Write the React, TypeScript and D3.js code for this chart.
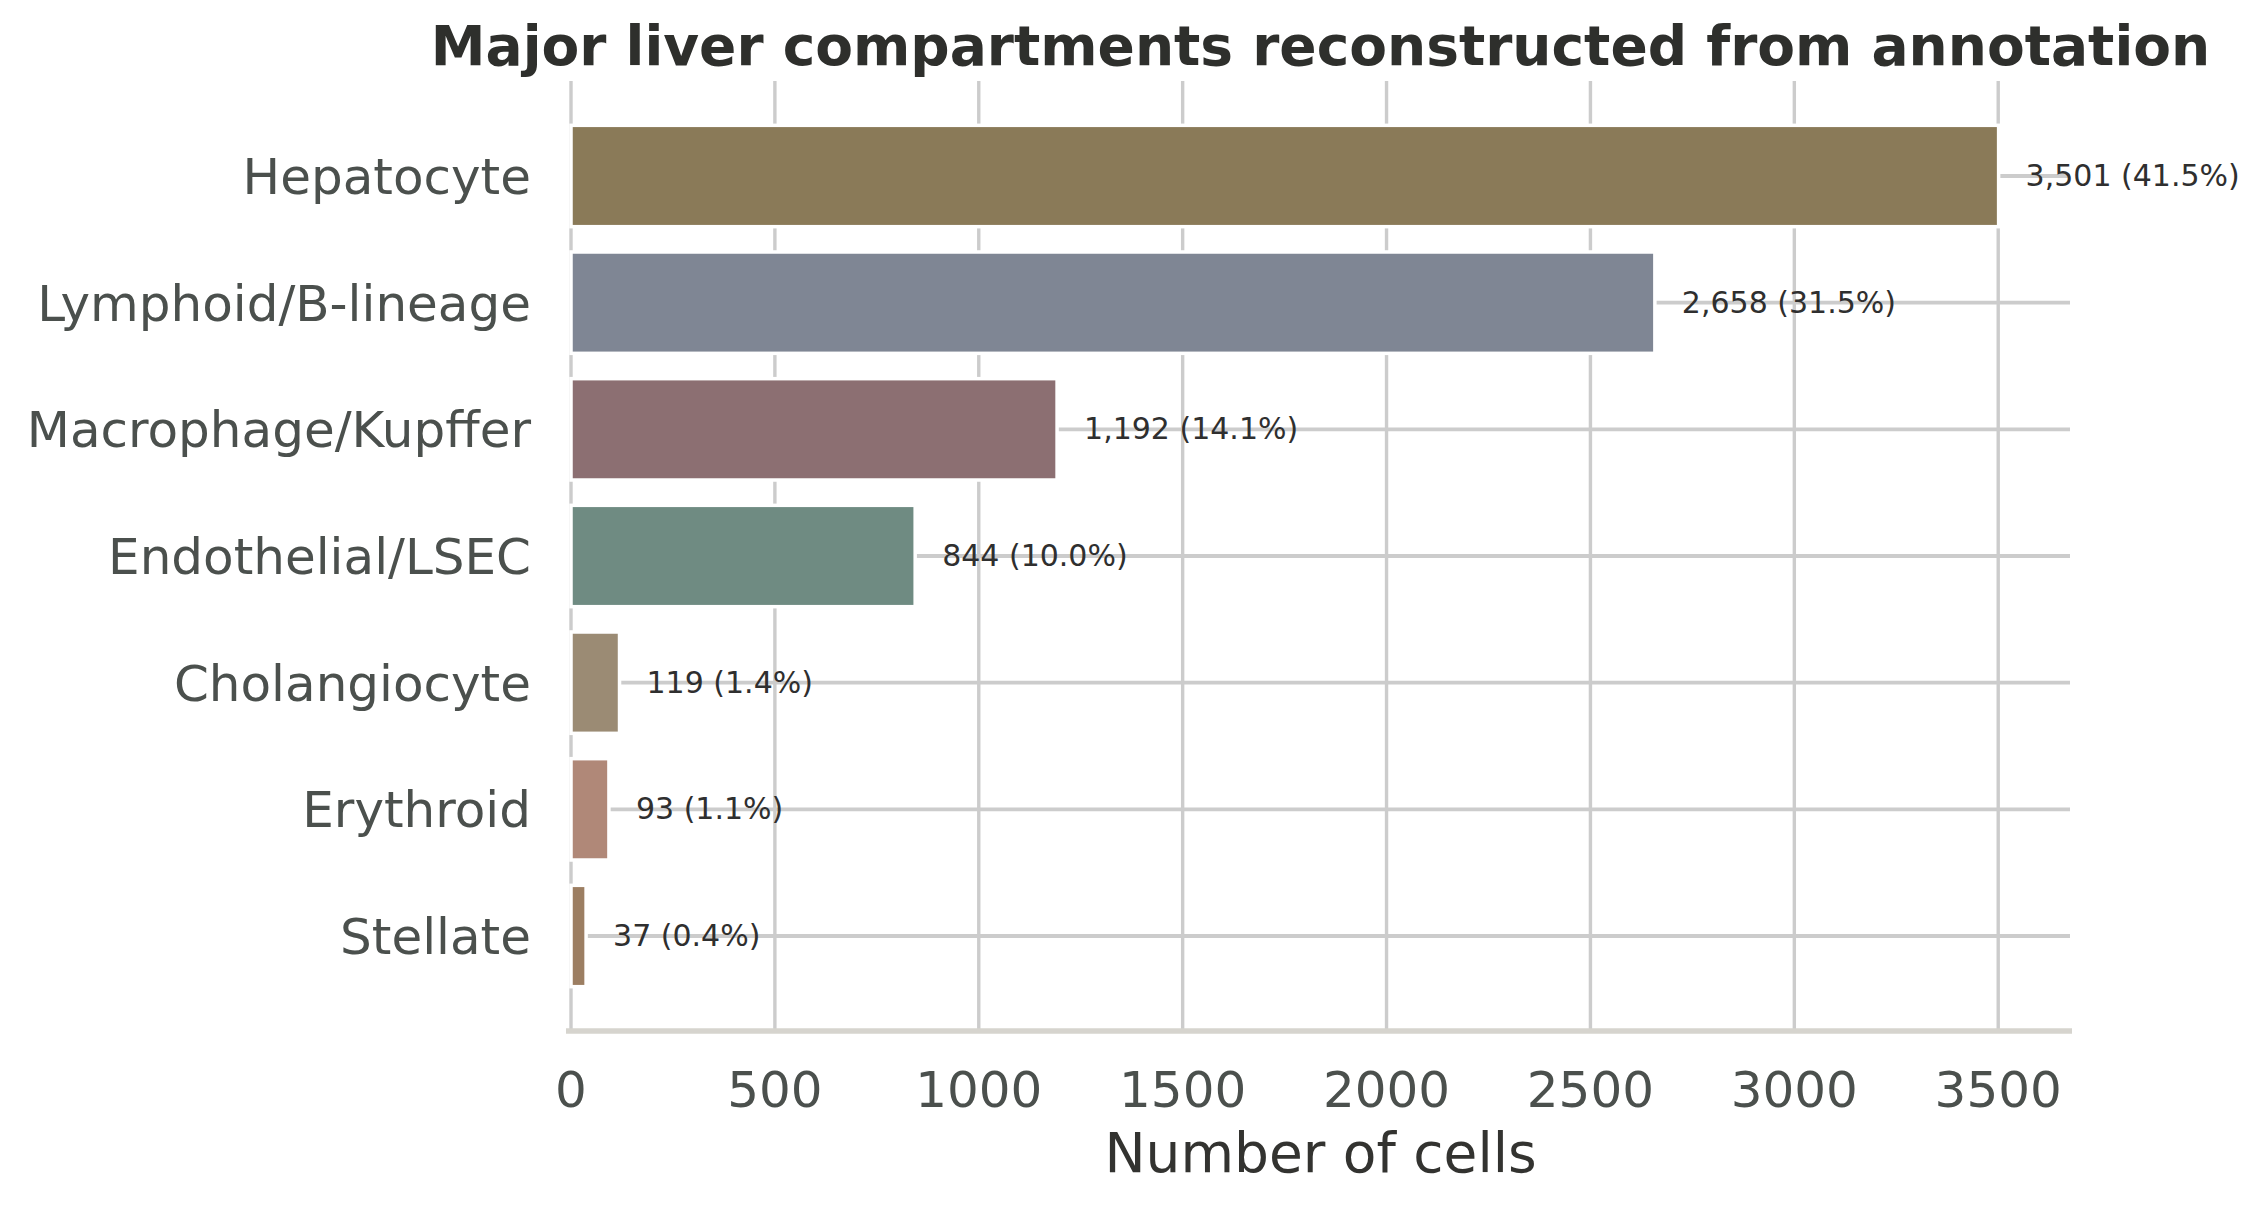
import React from 'react'
import * as d3 from 'd3'

const categories = ['Hepatocyte', 'Lymphoid/B-lineage', 'Macrophage/Kupffer', 'Endothelial/LSEC', 'Cholangiocyte', 'Erythroid', 'Stellate']
const counts = [3501, 2658, 1192, 844, 119, 93, 37]
const colors = ['#8a7a58', '#7f8694', '#8c6f72', '#6f8b82', '#9b8b74', '#b08878', '#9c7e62']
const xTicks = [0, 500, 1000, 1500, 2000, 2500, 3000, 3500]

const W = 2266, H = 1205
const M = { left: 571, right: 2070, top: 81, bottom: 1031 }
const font = '"DejaVu Sans", sans-serif'
const grid = '#cccccc'

export default function App() {
  const
    total = d3.sum(counts),
    x = d3.scaleLinear().domain([0, d3.max(counts)! * 1.05]).range([M.left, M.right]),
    y = d3.scaleBand<string>().domain(categories).range([M.top, M.bottom]).paddingInner(0.2).paddingOuter(0.35),
    fmt = d3.format(',')

  return (
    <svg width={W} height={H} style={{ position: 'absolute', left: 0, top: 0, background: '#fff' }} fontFamily={font}>
      {/* grid */}
      {xTicks.map(t => (
        <line key={'gx' + t} x1={x(t)} x2={x(t)} y1={M.top} y2={M.bottom} stroke={grid} strokeWidth={3.4} />
      ))}
      {categories.map(c => {
        const cy = y(c)! + y.bandwidth() / 2
        return <line key={'gy' + c} x1={M.left} x2={M.right} y1={cy} y2={cy} stroke={grid} strokeWidth={3.8} />
      })}
      {/* bars */}
      {categories.map((c, i) => (
        <rect key={'b' + c} x={x(0)} y={y(c)} width={x(counts[i]) - x(0)} height={y.bandwidth()}
          fill={colors[i]} stroke='#fff' strokeWidth={3.5} />
      ))}
      {/* bottom spine */}
      <line x1={M.left - 5} x2={M.right + 2} y1={M.bottom} y2={M.bottom} stroke='#d6d4ce' strokeWidth={5.5} />
      {/* value labels */}
      {categories.map((c, i) => (
        <text key={'v' + c} x={x(counts[i]) + 27} y={y(c)! + y.bandwidth() / 2 + 10} fontSize={30} fill='#2f2f2f'>
          {`${fmt(counts[i])} (${(counts[i] / total * 100).toFixed(1)}%)`}
        </text>
      ))}
      {/* y tick labels */}
      {categories.map(c => (
        <text key={'yl' + c} x={531} y={y(c)! + y.bandwidth() / 2 + 18} fontSize={50} fill='#4b504d' textAnchor='end'>{c}</text>
      ))}
      {/* x tick labels */}
      {xTicks.map(t => (
        <text key={'xl' + t} x={x(t)} y={1107} fontSize={50} fill='#4b504d' textAnchor='middle'>{t}</text>
      ))}
      <text x={(M.left + M.right) / 2} y={1172} fontSize={55} fill='#333330' textAnchor='middle'>Number of cells</text>
      <text x={(M.left + M.right) / 2} y={65} fontSize={55} fontWeight='bold' fill='#2e2f2c' textAnchor='middle'>
        Major liver compartments reconstructed from annotation
      </text>
    </svg>
  )
}
